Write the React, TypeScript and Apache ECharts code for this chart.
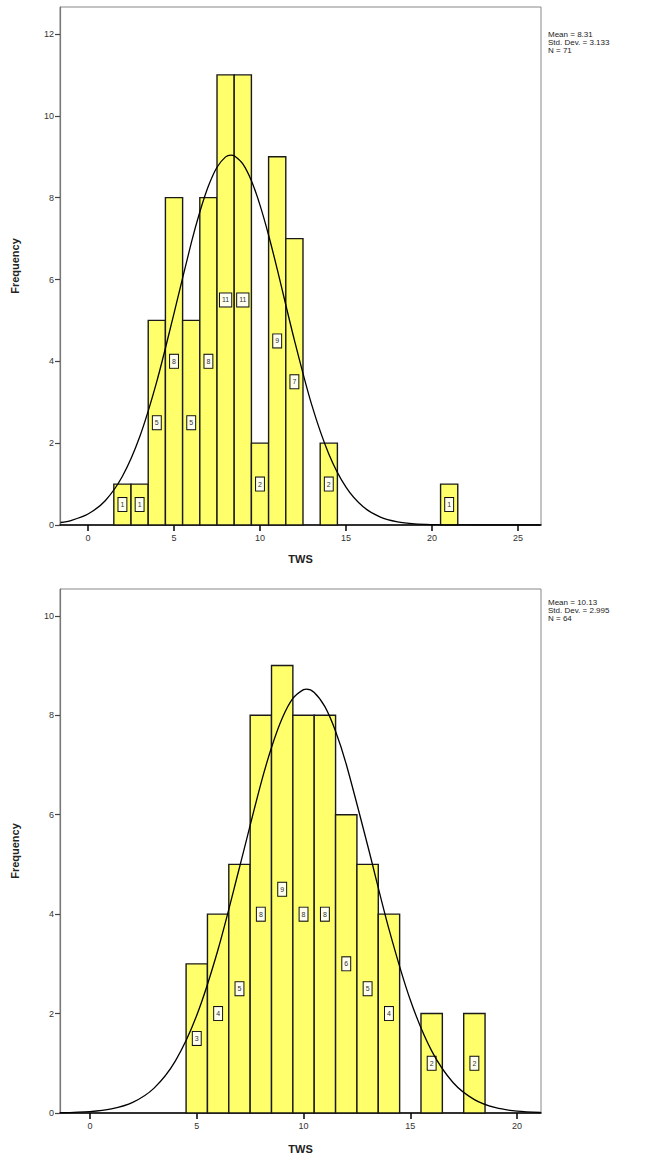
import React, { useEffect, useRef } from "react";
import * as echarts from "echarts";

// ---------- Top histogram ----------
const TOP_BINS = [2, 3, 4, 5, 6, 7, 8, 9, 10, 11, 12, 14, 21];
const TOP_COUNTS = [1, 1, 5, 8, 5, 8, 11, 11, 2, 9, 7, 2, 1];
const TOP_CURVE_X = [-1.6, -1, 0, 1, 2, 3, 4, 5, 6, 6.5, 7, 7.5, 8, 8.31, 8.5, 9, 9.5, 10, 10.5, 11, 12, 13, 14, 15, 16, 17, 18, 19, 20, 21, 22, 23, 24, 25, 26.3];
const TOP_CURVE_Y = [0.061, 0.109, 0.268, 0.594, 1.19, 2.15, 3.51, 5.174, 6.889, 7.651, 8.284, 8.744, 8.997, 9.041, 9.024, 8.824, 8.412, 7.817, 7.082, 6.254, 4.519, 2.948, 1.738, 0.925, 0.445, 0.193, 0.076, 0.027, 0.009, 0.003, 0.001, 0, 0, 0, 0];
const TOP_X_TICKS = [0, 5, 10, 15, 20, 25];
const TOP_Y_TICKS = [0, 2, 4, 6, 8, 10, 12];
const TOP_STATS = ["Mean = 8.31", "Std. Dev. = 3.133", "N = 71"];

// ---------- Bottom histogram ----------
const BOT_BINS = [5, 6, 7, 8, 9, 10, 11, 12, 13, 14, 16, 18];
const BOT_COUNTS = [3, 4, 5, 8, 9, 8, 8, 6, 5, 4, 2, 2];
const BOT_CURVE_X = [-1.4, 0, 1, 2, 3, 4, 5, 6, 7, 8, 8.5, 9, 9.5, 10, 10.13, 10.5, 11, 11.5, 12, 13, 14, 15, 16, 17, 18, 19, 20, 21.1];
const BOT_CURVE_Y = [0.005, 0.028, 0.082, 0.214, 0.501, 1.05, 1.966, 3.294, 4.938, 6.62, 7.351, 7.939, 8.338, 8.517, 8.525, 8.46, 8.173, 7.679, 7.015, 5.386, 3.699, 2.273, 1.249, 0.614, 0.27, 0.106, 0.037, 0.01];
const BOT_X_TICKS = [0, 5, 10, 15, 20];
const BOT_Y_TICKS = [0, 2, 4, 6, 8, 10];
const BOT_STATS = ["Mean = 10.13", "Std. Dev. = 2.995", "N = 64"];

const AXIS_TITLE_X = "TWS";
const AXIS_TITLE_Y = "Frequency";

const FONT = "'Liberation Sans', Arial, sans-serif";
const BAR_FILL = "#ffff6b";

function histRender(params: any, api: any) {
  const c = api.value(0);
  const v = api.value(1);
  const p0 = api.coord([c - 0.5, v]);
  const p1 = api.coord([c + 0.5, 0]);
  const mid = api.coord([c, v / 2]);
  return {
    type: "group",
    children: [
      {
        type: "rect",
        shape: { x: p0[0], y: p0[1], width: p1[0] - p0[0], height: p1[1] - p0[1] },
        style: { fill: BAR_FILL, stroke: "#1a1a1a", lineWidth: 1.4 },
      },
      {
        type: "text",
        x: mid[0],
        y: mid[1],
        style: {
          text: String(v),
          fontSize: 7,
          fontFamily: FONT,
          fill: "#333",
          align: "center",
          verticalAlign: "middle",
          backgroundColor: "#fffff0",
          borderColor: "#111",
          borderWidth: 1,
          padding: [3, 2],
        },
      },
    ],
  };
}

function xAxisCfg(grid: number, min: number, max: number, ticks: number[], gap: number) {
  return {
    type: "value",
    gridIndex: grid,
    min,
    max,
    axisLine: { show: true, onZero: false, lineStyle: { color: "#000", width: 1.5 } },
    axisTick: { show: true, length: 6, customValues: ticks, lineStyle: { color: "#000", width: 1.5 } },
    axisLabel: { customValues: ticks, fontSize: 9, color: "#333", margin: 8, fontFamily: FONT },
    splitLine: { show: false },
    name: AXIS_TITLE_X,
    nameLocation: "middle",
    nameGap: gap,
    nameTextStyle: { fontWeight: "bold", fontSize: 11, color: "#222", fontFamily: FONT },
  };
}

function yAxisCfg(grid: number, max: number, ticks: number[]) {
  return {
    type: "value",
    gridIndex: grid,
    min: 0,
    max,
    axisLine: { show: true, onZero: false, lineStyle: { color: "#777", width: 1.2 } },
    axisTick: { show: true, length: 5, customValues: ticks, lineStyle: { color: "#444", width: 1.2 } },
    axisLabel: { customValues: ticks, fontSize: 9, color: "#333", margin: 6, fontFamily: FONT },
    splitLine: { show: false },
    name: AXIS_TITLE_Y,
    nameLocation: "middle",
    nameGap: 40,
    nameRotate: 90,
    nameTextStyle: { fontWeight: "bold", fontSize: 11, color: "#222", fontFamily: FONT },
  };
}

function statsText(lines: string[], x: number, y: number) {
  return {
    type: "text",
    left: x,
    top: y,
    style: {
      text: lines.join("\n"),
      fontSize: 8,
      lineHeight: 8,
      fontFamily: FONT,
      fill: "#222",
    },
  };
}

export default function App() {
  const ref = useRef<HTMLDivElement>(null);
  useEffect(() => {
    if (!ref.current) return;
    const chart = echarts.init(ref.current, null, { renderer: "svg" });
    const option: any = {
      animation: false,
      backgroundColor: "#fff",
      grid: [
        { left: 60, top: 7, width: 481, height: 518, show: true, borderColor: "#888", borderWidth: 1, backgroundColor: "transparent" },
        { left: 60, top: 589, width: 481, height: 524, show: true, borderColor: "#888", borderWidth: 1, backgroundColor: "transparent" },
      ],
      xAxis: [xAxisCfg(0, -1.63, 26.34, TOP_X_TICKS, 28), xAxisCfg(1, -1.405, 21.12, BOT_X_TICKS, 30)],
      yAxis: [yAxisCfg(0, 12.66, TOP_Y_TICKS), yAxisCfg(1, 10.54, BOT_Y_TICKS)],
      series: [
        {
          type: "custom",
          xAxisIndex: 0,
          yAxisIndex: 0,
          renderItem: histRender,
          encode: { x: 0, y: 1 },
          data: TOP_BINS.map((b, i) => [b, TOP_COUNTS[i]]),
        },
        {
          type: "line",
          xAxisIndex: 0,
          yAxisIndex: 0,
          smooth: 0.3,
          showSymbol: false,
          lineStyle: { color: "#000", width: 1.3 },
          data: TOP_CURVE_X.map((x, i) => [x, TOP_CURVE_Y[i]]),
          z: 5,
        },
        {
          type: "custom",
          xAxisIndex: 1,
          yAxisIndex: 1,
          renderItem: histRender,
          encode: { x: 0, y: 1 },
          data: BOT_BINS.map((b, i) => [b, BOT_COUNTS[i]]),
        },
        {
          type: "line",
          xAxisIndex: 1,
          yAxisIndex: 1,
          smooth: 0.3,
          showSymbol: false,
          lineStyle: { color: "#000", width: 1.3 },
          data: BOT_CURVE_X.map((x, i) => [x, BOT_CURVE_Y[i]]),
          z: 5,
        },
      ],
      graphic: [statsText(TOP_STATS, 548, 30), statsText(BOT_STATS, 548, 598)],
    };
    chart.setOption(option);
    return () => chart.dispose();
  }, []);
  return (
    <div
      ref={ref}
      style={{ position: "absolute", left: 0, top: 0, width: 646, height: 1162 }}
    />
  );
}
